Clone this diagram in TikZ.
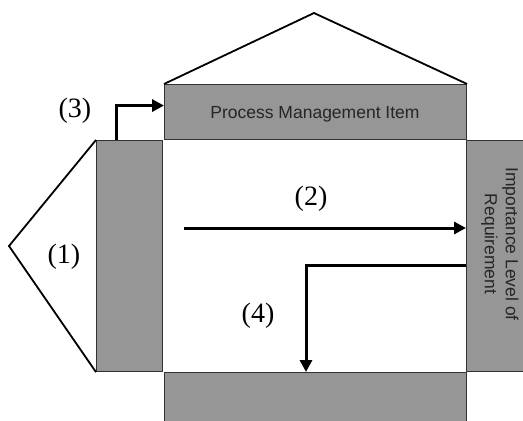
\documentclass[tikz,border=0pt]{standalone}
\usepackage{fontspec}
\setmainfont{Liberation Serif}
\setsansfont{Liberation Sans}
\usetikzlibrary{arrows.meta}
\definecolor{panelgray}{RGB}{150,150,150}
\definecolor{edgegray}{RGB}{50,50,50}
\begin{document}
\begin{tikzpicture}[x=1pt,y=-1pt,
  panel/.style={draw=edgegray, line width=1.1pt, fill=panelgray, inner sep=0pt, anchor=north west},
  roofline/.style={line width=1.8pt, line join=miter},
  flow/.style={line width=3pt, -{Triangle[length=12pt,width=12pt]}},
  num/.style={font=\fontsize{28}{32}\selectfont, inner sep=0pt},
  paneltext/.style={font=\sffamily\fontsize{17.5}{21}\selectfont, text=black!85}]
\useasboundingbox (0,0) rectangle (523,421);
\clip (0,0) rectangle (523,421);
% panels of the house
\node[panel, minimum width=302pt, minimum height=55pt] (top) at (164,84) {};
\node[panel, minimum width=66pt, minimum height=231pt] (left) at (96,140) {};
\node[panel, minimum width=68pt, minimum height=231pt] (right) at (466,140) {};
\node[panel, minimum width=302pt, minimum height=56pt] (bottom) at (164,372) {};
\node[paneltext] (toptext) at (315,114) {Process Management Item};
\node[paneltext, rotate=-90, align=center] (righttext) at (500,244) {Importance Level of\\Requirement};
% roof and left wing
\coordinate (apex) at (314,13);
\coordinate (lapex) at (9,246);
\draw[roofline] (top.north west) -- (apex) -- (top.north east);
\draw[roofline] (left.north west) -- (lapex) -- (left.south west);
% flows
\draw[flow] ([xshift=20pt]left.north west) |- ([yshift=6.5pt]top.west);
\coordinate (s2) at (184,228);
\draw[flow] (s2) -- (s2 -| right.west);
\coordinate (k4) at (306,265);
\draw[flow] (right.west |- k4) -| (bottom.north -| k4);
% numbers
\node[num] (n1) at (64,257) {(1)};
\node[num] (n2) at (311,199) {(2)};
\node[num] (n3) at (75,111) {(3)};
\node[num] (n4) at (258,316) {(4)};
\end{tikzpicture}
\end{document}
